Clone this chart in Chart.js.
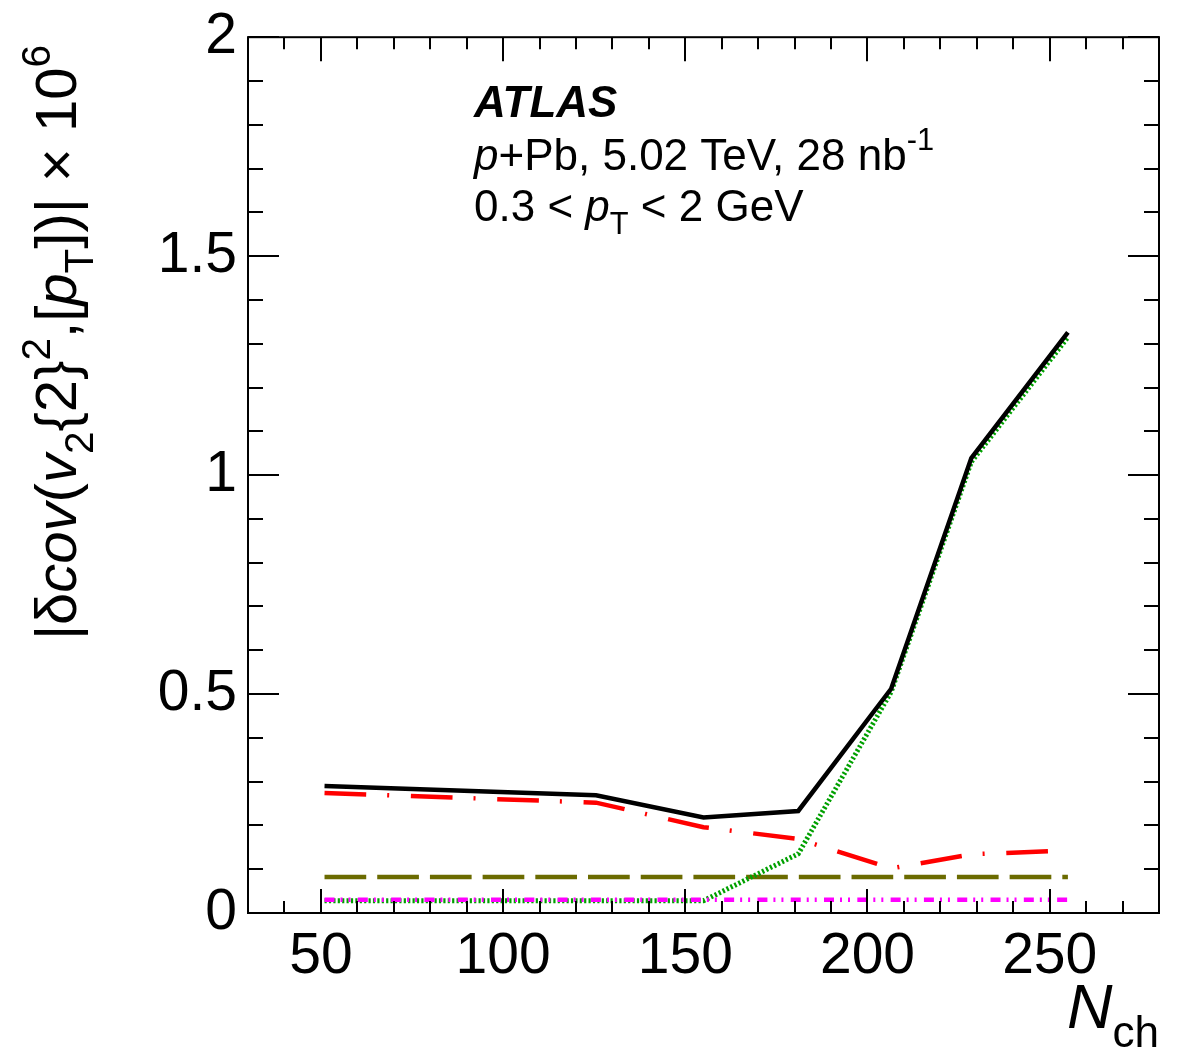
<!DOCTYPE html>
<html>
<head>
<meta charset="utf-8">
<script src="https://cdn.jsdelivr.net/npm/chart.js@4.4.1/dist/chart.umd.min.js"></script>
<style>
  html, body { margin: 0; padding: 0; background: #fff; }
  canvas { display: block; }
</style>
</head>
<body>
<canvas id="covChart" width="1182" height="1059"></canvas>
<script>
// Nch bin centres and uncertainty contributions (x 10^6)
const nchBins = [51, 125.5, 155, 181, 206.5, 228.5, 255];
const totalUnc = [0.290, 0.269, 0.218, 0.233, 0.512, 1.039, 1.326];
const redUnc = [0.274, 0.252, 0.196, 0.169, 0.102, 0.134, 0.143];
const oliveUnc = [0.082, 0.082, 0.082, 0.082, 0.082, 0.082, 0.082];
const greenUnc = [0.028, 0.028, 0.028, 0.135, 0.505, 1.030, 1.315];
const magentaUnc = [0.030, 0.030, 0.030, 0.030, 0.030, 0.030, 0.030];

const xTicks = [50, 100, 150, 200, 250];
const yTicks = [0, 0.5, 1, 1.5, 2];
const yTickLabels = ['0', '0.5', '1', '1.5', '2'];

const FONT = '"Liberation Sans", Arial, Helvetica, sans-serif';

function toPoints(vals) {
    return nchBins.map((x, i) => ({ x: x, y: vals[i] }));
}

// draws a list of text runs (italic / bold / sub / sup), returns width
function drawRich(ctx, runs, x, y, size, draw) {
    let cx = x;
    for (const r of runs) {
        const s = (r.sub || r.sup) ? size * 0.7 : size;
        const dy = r.sub ? size * 0.3 : (r.sup ? -size * 0.45 : 0);
        ctx.font = (r.it ? 'italic ' : '') + (r.b ? 'bold ' : '') + s + 'px ' + FONT;
        if (draw !== false) ctx.fillText(r.t, cx, y + dy);
        cx += ctx.measureText(r.t).width;
    }
    return cx - x;
}

const atlasFrame = {
    id: 'atlasFrame',
    afterDraw: function (chart) {
        const { ctx, chartArea: a, scales: { x, y } } = chart;
        ctx.save();
        ctx.strokeStyle = '#000';
        ctx.lineWidth = 2;
        ctx.strokeRect(a.left, a.top, a.right - a.left, a.bottom - a.top);

        // inside ticks, all four sides
        ctx.beginPath();
        for (let v = 30; v <= 280; v += 10) {
            const px = Math.round(x.getPixelForValue(v));
            const len = (v % 50 === 0) ? 24 : 12;
            ctx.moveTo(px, a.bottom); ctx.lineTo(px, a.bottom - len);
            ctx.moveTo(px, a.top); ctx.lineTo(px, a.top + len);
        }
        for (let k = 0; k <= 20; k++) {
            const py = Math.round(y.getPixelForValue(k / 10));
            const len = (k % 5 === 0) ? 31 : 15;
            ctx.moveTo(a.left, py); ctx.lineTo(a.left + len, py);
            ctx.moveTo(a.right, py); ctx.lineTo(a.right - len, py);
        }
        ctx.stroke();

        ctx.fillStyle = '#000';
        ctx.textBaseline = 'alphabetic';
        ctx.textAlign = 'left';

        // labels in the plot
        drawRich(ctx, [{ t: 'ATLAS', it: 1, b: 1 }], 474, 117, 44);
        drawRich(ctx, [{ t: 'p', it: 1 }, { t: '+Pb, 5.02 TeV, 28 nb' }, { t: '-1', sup: 1 }], 474, 170, 44);
        drawRich(ctx, [{ t: '0.3 < ' }, { t: 'p', it: 1 }, { t: 'T', sub: 1 }, { t: ' < 2 GeV' }], 474, 221, 44);

        // x axis title
        const xRuns = [{ t: 'N', it: 1 }, { t: 'ch', sub: 1 }];
        const xw = drawRich(ctx, xRuns, 0, 0, 63, false);
        drawRich(ctx, xRuns, a.right - xw, 1028, 63);

        // y axis title (rotated)
        const yRuns = [
            { t: '|δ' }, { t: 'cov', it: 1 }, { t: '(' }, { t: 'v', it: 1 }, { t: '2', sub: 1 },
            { t: '{2}' }, { t: '2', sup: 1 }, { t: ',[' }, { t: 'p', it: 1 }, { t: 'T', sub: 1 },
            { t: '])| × 10' }, { t: '6', sup: 1 }
        ];
        ctx.translate(76, 640);
        ctx.rotate(-Math.PI / 2);
        drawRich(ctx, yRuns, 0, 0, 58);
        ctx.restore();
    }
};

const ctxCov = document.getElementById('covChart').getContext('2d');

function lineSet(label, vals, color, width, dash, order) {
    return {
        label: label,
        data: toPoints(vals),
        borderColor: color,
        backgroundColor: color,
        borderWidth: width,
        borderDash: dash,
        borderCapStyle: 'butt',
        borderJoinStyle: 'miter',
        pointRadius: 0,
        tension: 0,
        fill: false,
        order: order
    };
}

new Chart(ctxCov, {
    type: 'line',
    data: {
        datasets: [
            lineSet('total', totalUnc, '#000000', 4.5, [], 2),
            lineSet('source 1', redUnc, '#ff0000', 4.5, [41.7, 21, 2, 21.7], 4),
            lineSet('source 2', oliveUnc, '#6b6b00', 4.5, [41.7, 11], 5),
            lineSet('source 3', greenUnc, '#00a000', 5, [2.2, 2.2], 3),
            lineSet('source 4', magentaUnc, '#ff00ff', 4.5, [10, 6, 2, 6, 2, 7.3], 1)
        ]
    },
    plugins: [atlasFrame],
    options: {
        responsive: false,
        animation: false,
        devicePixelRatio: 1,
        layout: { padding: { top: 35, right: 23, left: 0, bottom: 0 } },
        plugins: {
            legend: { display: false },
            tooltip: { enabled: false }
        },
        scales: {
            x: {
                type: 'linear',
                position: 'bottom',
                min: 30,
                max: 280,
                grid: { display: false },
                border: { display: false },
                afterBuildTicks: function (s) { s.ticks = xTicks.map(v => ({ value: v })); },
                afterFit: function (s) { s.height = 146; },
                ticks: {
                    autoSkip: false,
                    maxRotation: 0,
                    minRotation: 0,
                    padding: 2,
                    color: '#000',
                    font: { family: FONT, size: 57 }
                }
            },
            y: {
                type: 'linear',
                position: 'left',
                min: 0,
                max: 2,
                grid: { display: false },
                border: { display: false },
                afterBuildTicks: function (s) { s.ticks = yTicks.map(v => ({ value: v })); },
                afterFit: function (s) { s.width = 248; },
                ticks: {
                    autoSkip: false,
                    padding: 3,
                    color: '#000',
                    font: { family: FONT, size: 57 },
                    callback: function (value) {
                        const i = yTicks.indexOf(value);
                        return i >= 0 ? yTickLabels[i] : '';
                    }
                }
            }
        }
    }
});
</script>
</body>
</html>
